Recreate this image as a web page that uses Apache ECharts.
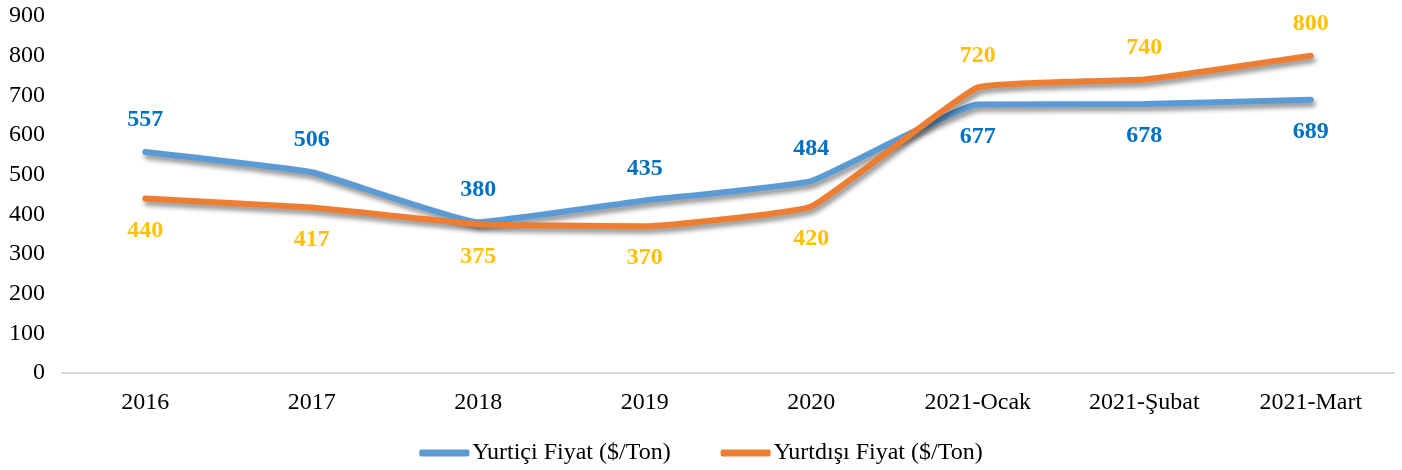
<!DOCTYPE html>
<html>
<head>
<meta charset="utf-8">
<script src="https://cdn.jsdelivr.net/npm/echarts@6/dist/echarts.min.js"></script>
<style>html,body{margin:0;padding:0;background:#fff}#c{width:1402px;height:470px}</style>
</head>
<body>
<div id="c"></div>
<script>
const categories = ['2016','2017','2018','2019','2020','2021-Ocak','2021-Şubat','2021-Mart'];
const yurtici = [557,506,380,435,484,677,678,689];
const yurtdisi = [440,417,375,370,420,720,740,800];
const seriesNames = ['Yurtiçi Fiyat ($/Ton)','Yurtdışı Fiyat ($/Ton)'];
const blueLabelPos = ['top','top','top','top','top','bottom','bottom','bottom'];
const orangeLabelPos = ['bottom','bottom','bottom','bottom','bottom','top','top','top'];

const font = '"Liberation Serif", "Times New Roman", serif';
function mk(vals, pos) {
  return vals.map((v,i)=>({value:v,label:{position:pos[i]}}));
}
const chart = echarts.init(document.getElementById('c'));
chart.setOption({
  animation:false,
  textStyle:{fontFamily:font},
  grid:{left:62,right:8,top:16,bottom:97},
  legend:{
    top:436, left:'center', itemWidth:50, itemHeight:7, itemGap:50,
    textStyle:{fontFamily:font,fontSize:24,color:'#000',padding:[0,0,0,-2]},
    data:[
      {name:seriesNames[0],icon:'roundRect',itemStyle:{color:'#5B9BD5',opacity:1}},
      {name:seriesNames[1],icon:'roundRect',itemStyle:{color:'#ED7D31',opacity:1}}
    ]
  },
  xAxis:{
    type:'category', data:categories, boundaryGap:true,
    axisLine:{lineStyle:{color:'#D9D9D9',width:2}},
    axisTick:{show:false},
    axisLabel:{fontFamily:font,fontSize:24,color:'#000',margin:18}
  },
  yAxis:{
    type:'value', min:0, max:900, interval:100,
    splitLine:{show:false}, axisLine:{show:false}, axisTick:{show:false},
    axisLabel:{fontFamily:font,fontSize:24,color:'#000',margin:17}
  },
  series:[
    {
      name:seriesNames[0], type:'line', data:mk(yurtici,blueLabelPos),
      smooth:0.1, symbol:'circle', symbolSize:0.1, showSymbol:true,
      itemStyle:{color:'#5B9BD5'}, color:'#5B9BD5',
      lineStyle:{width:6,color:'#5B9BD5',cap:'round',shadowColor:'rgba(0,0,0,0.45)',shadowBlur:5,shadowOffsetX:2,shadowOffsetY:4},
      label:{show:true,fontFamily:font,fontSize:24,fontWeight:'bold',color:'#0070C0',distance:20},
      labelLayout:{hideOverlap:false},
      z:2
    },
    {
      name:seriesNames[1], type:'line', data:mk(yurtdisi,orangeLabelPos),
      smooth:0.1, symbol:'circle', symbolSize:0.1, showSymbol:true,
      itemStyle:{color:'#ED7D31'}, color:'#ED7D31',
      lineStyle:{width:6,color:'#ED7D31',cap:'round',shadowColor:'rgba(0,0,0,0.45)',shadowBlur:5,shadowOffsetX:2,shadowOffsetY:4},
      label:{show:true,fontFamily:font,fontSize:24,fontWeight:'bold',color:'#FFC000',distance:20},
      labelLayout:{hideOverlap:false},
      z:3
    }
  ]
});
</script>
</body>
</html>
